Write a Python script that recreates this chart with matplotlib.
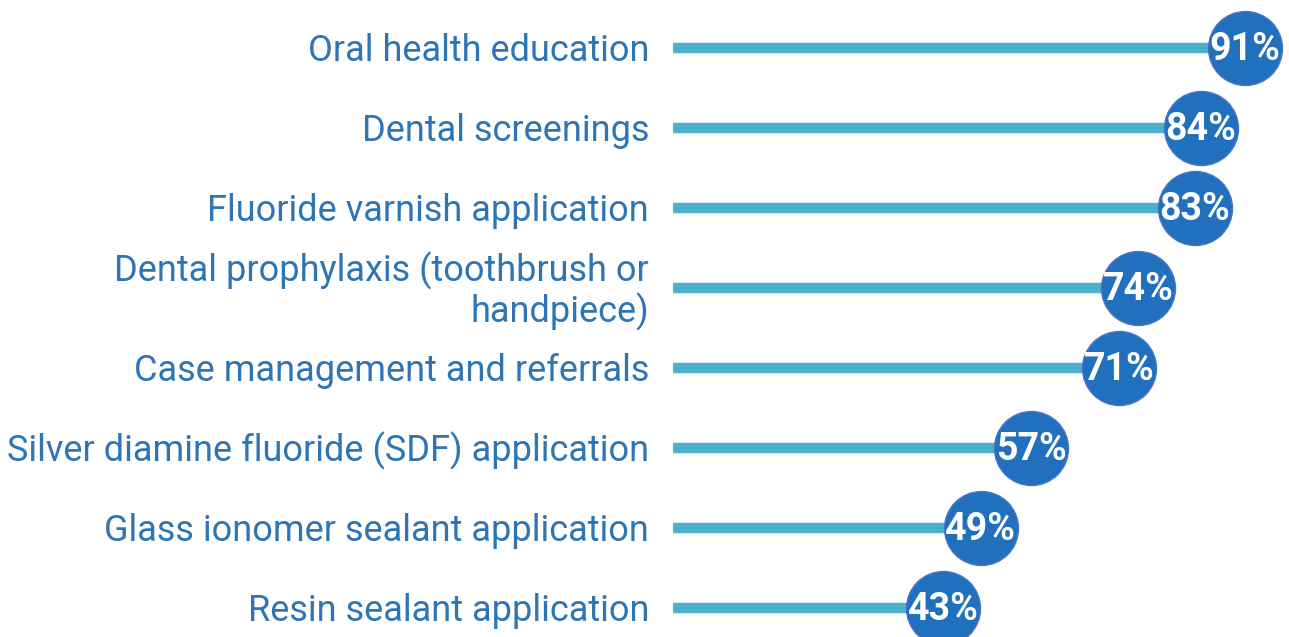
import matplotlib.pyplot as plt

categories = ["Oral health education", "Dental screenings", "Fluoride varnish application",
              "Dental prophylaxis (toothbrush or\nhandpiece)", "Case management and referrals",
              "Silver diamine fluoride (SDF) application", "Glass ionomer sealant application",
              "Resin sealant application"]
values = [91, 84, 83, 74, 71, 57, 49, 43]

line_color = "#4BB0CC"
dot_color = "#2170BE"
text_color = "#2E75B6"

fig = plt.figure(figsize=(12.89, 6.37), dpi=100)
ax = fig.add_axes([670 / 1289, 0, 1 - 670 / 1289, 1])

ypos = list(range(len(values)))
ax.hlines(ypos, 0, values, color=line_color, linewidth=7.5)
ax.scatter(values, ypos, s=2840, color=dot_color, edgecolor="#4A74C6", linewidth=1, zorder=3)
for y, v in zip(ypos, values):
    ax.text(v, y + 0.02, f"{v}%", color="white", fontsize=27, fontweight="bold",
            ha="center", va="center", zorder=4, family="Roboto")
for y, c in zip(ypos, categories):
    ax.text(-3.7, y + 0.04, c, color=text_color, fontsize=26, ha="right", va="center",
            family="Roboto", linespacing=1.1)

ax.set_xlim(-0.4, 98)
ax.set_ylim(7.3625, -0.6)
ax.axis("off")

fig.savefig("out.png", dpi=100)
